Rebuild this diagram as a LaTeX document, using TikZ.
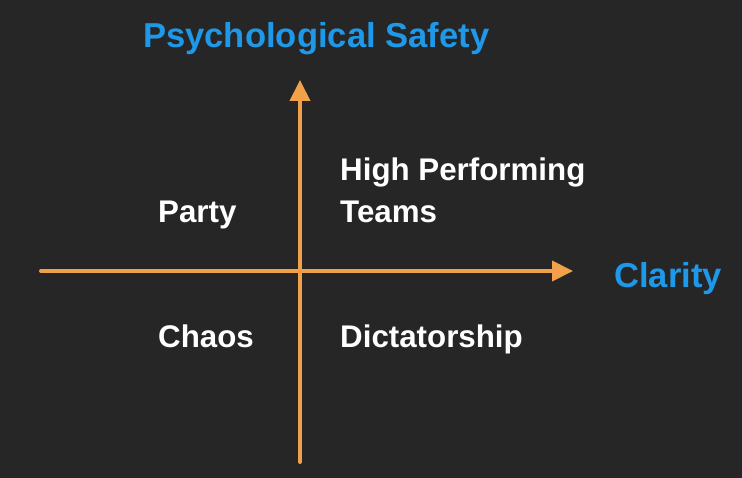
\documentclass[tikz,border=0pt]{standalone}
\usepackage{fontspec}
\setmainfont{Liberation Sans}
\usetikzlibrary{arrows.meta}
\definecolor{bgdark}{HTML}{262626}
\definecolor{axisorange}{HTML}{F3A04A}
\definecolor{axisblue}{HTML}{1E98E8}
\begin{document}
\begin{tikzpicture}[x=1pt,y=-1pt,
  axis/.style={draw=axisorange, line width=4pt, line cap=round,
    -{Triangle[length=21pt,width=20pt]}},
  quadlabel/.style={anchor=base west, inner sep=0pt, text=white,
    font=\fontsize{31.3}{42}\selectfont\bfseries, align=left},
  axislabel/.style={anchor=base west, inner sep=0pt, text=axisblue,
    font=\fontsize{34.6}{40}\selectfont\bfseries}]
  % page and background
  \fill[bgdark] (0,0) rectangle (742,478);
  \useasboundingbox (0,0) rectangle (742,478);
  % axis end points
  \coordinate (ybot) at (300,462);
  \coordinate (ytop) at (300,80);
  \coordinate (xleft) at (41,271);
  \coordinate (xright) at (573,271);
  \draw[axis] (ybot) -- (ytop);
  \draw[axis] (xleft) -- (xright);
  % axis names
  \node[axislabel] (safety) at (143,48) {Psychological Safety};
  \node[axislabel] (clarity) at (614,288) {Clarity};
  % quadrant names
  \node[quadlabel] (hpt1) at (340,181) {High Performing};
  \node[quadlabel] (hpt2) at (340,223) {Teams};
  \node[quadlabel] (party) at (158,223) {Party};
  \node[quadlabel] (chaos) at (158,348) {Chaos};
  \node[quadlabel] (dict) at (340,348) {Dictatorship};
\end{tikzpicture}
\end{document}
